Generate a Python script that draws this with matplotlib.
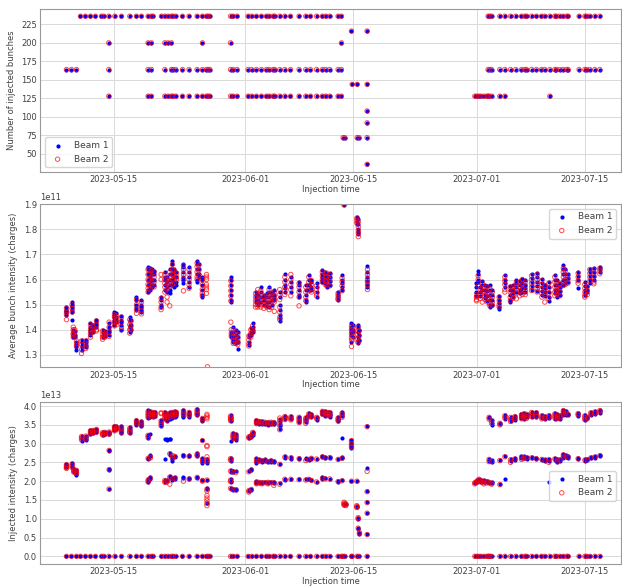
import numpy as np
import pandas as pd
import matplotlib
matplotlib.use("Agg")
import matplotlib.pyplot as plt
import matplotlib.dates as mdates
from matplotlib.ticker import MultipleLocator

# all times are days after 2023-05-15 00:00
T0 = pd.Timestamp("2023-05-15")

# --- number of injected bunches per fill (same for both beams) ---
bunch_day = [-6.13, -5.48, -4.83, -4.31, -3.67, -3.02, -2.37, -1.59, -1.30, -0.65,
             0.13, 1.00, 2.07, 2.94, 3.59, 4.44, 4.88, 5.09, 6.18, 6.61,
             7.03, 7.47, 7.68, 8.03, 8.90, 9.75, 10.79, 11.49, 12.01, 12.21,
             12.44, 15.12, 15.45, 15.97, 17.40, 17.84, 18.48, 19.13, 19.78, 20.12,
             20.63, 20.85, 21.50, 22.15, 22.89, 24.00, 24.87, 25.48, 26.26, 27.03,
             27.46, 27.98, 29.05, 29.49, 29.70, 29.92, 30.79, 30.87, 31.52, 31.77,
             32.81, 46.76, 47.02, 47.28, 47.54, 47.93, 48.32, 48.48, 48.61, 48.70,
             48.93, 50.00, 50.65, 51.39, 52.07, 52.81, 53.24, 53.46, 54.11, 54.75,
             55.40, 55.83, 56.48, 57.12, 57.34, 57.77, 58.20, 58.64, 58.85, 60.27,
             61.01, 61.23, 61.66, 62.31, 62.95]
A = [236, 164, 128]
F = [236, 200, 164, 128]
bunch_sets = [[164], [164], [164], [236], [236], [236], [236], [236], [236], F,
              [236], [236], [236], [236], [236], F, F, [236], [236], F,
              [236, 200, 128], F, A, A, A, A, A, F, A, A,
              A, F, A, A, A, A, A, A, A, A,
              A, A, A, A, A, A, A, A, A, A,
              A, A, A, F, [72], [72], [216], [144], [144, 72], [72],
              [216, 144, 108, 92, 72, 36], [128], [128], [128], [128], [128], [128], A, [128], [236, 164],
              A, A, A, [236, 164], [236, 164], [236, 164], [236, 164], [236, 164], [236, 164], [236, 164],
              [236, 164], [236, 164], A, [236, 164], [236, 164], [236, 164], [236, 164], [236, 164], [236, 164], [236, 164],
              [236, 164], [236, 164], [236, 164], [236, 164], [236, 164]]

# --- average bunch intensity (units of 1e11 charges) ---
avg_day = [-6.13, -5.40, -5.25, -5.05, -4.83, -4.18, -3.63, -3.02, -2.72, -2.24,
           -1.46, -1.17, -0.61, 0.09, 0.35, 1.00, 2.07, 2.20, 2.94, 3.59,
           4.44, 4.66, 4.92, 5.22, 6.13, 6.61, 6.90, 7.25, 7.60, 7.81,
           8.12, 9.03, 9.75, 10.79, 11.00, 11.46, 12.01, 12.14,
           15.16, 15.22, 15.48, 15.80, 16.06, 17.49, 17.75, 17.97, 18.36, 18.65,
           19.04, 19.43, 19.82, 20.12, 20.47, 20.79, 21.50, 22.15, 22.93, 24.00,
           24.87, 25.26, 25.61, 26.26, 27.01, 27.40, 27.59, 27.98, 29.05, 29.57,
           29.79, 30.79, 30.96, 31.61, 31.80, 31.48, 31.67, 32.86,
           46.98, 47.19, 47.47, 47.73, 48.06, 48.38, 48.70, 49.03, 49.91, 50.65,
           51.36, 51.68, 52.14, 52.59, 52.91, 53.30, 54.11, 54.83, 55.44, 55.83,
           56.35, 57.12, 57.38, 57.77, 58.23, 58.48, 58.81, 60.14, 61.01, 61.33,
           61.66, 62.18, 62.95]
avg_b1 = [[1.49, 1.48, 1.475, 1.47, 1.46], [1.51, 1.50, 1.49, 1.48, 1.47, 1.44],
          [1.40, 1.39, 1.38, 1.37], [1.395, 1.38, 1.37], [1.35, 1.34, 1.33, 1.32],
          [1.36, 1.35, 1.34, 1.33, 1.32], [1.36, 1.35, 1.34, 1.33],
          [1.425, 1.41, 1.40, 1.39, 1.38], [1.42, 1.41, 1.40, 1.39], [1.44, 1.43, 1.42, 1.41],
          [1.40, 1.39, 1.38, 1.37], [1.395, 1.385, 1.375], [1.425, 1.41, 1.40, 1.39, 1.38],
          [1.47, 1.46, 1.45, 1.44, 1.43, 1.42], [1.465, 1.45, 1.44, 1.43],
          [1.455, 1.44, 1.43, 1.42, 1.40], [1.45, 1.44, 1.42, 1.41, 1.39], [1.44, 1.42, 1.40],
          [1.53, 1.52, 1.50, 1.49, 1.48], [1.52, 1.50, 1.49, 1.48, 1.47],
          [1.65, 1.64, 1.62, 1.60, 1.58, 1.56, 1.55], [1.645, 1.63, 1.61, 1.59, 1.57, 1.56],
          [1.64, 1.62, 1.60, 1.58, 1.57], [1.635, 1.62, 1.60, 1.58], [1.53, 1.52, 1.50, 1.49],
          [1.63, 1.61, 1.60, 1.58, 1.56], [1.61, 1.59, 1.57, 1.55],
          [1.64, 1.62, 1.60, 1.58, 1.56, 1.545], [1.673, 1.66, 1.64, 1.62, 1.60, 1.58],
          [1.64, 1.63, 1.61, 1.59, 1.57], [1.63, 1.61, 1.59, 1.58],
          [1.66, 1.65, 1.63, 1.61, 1.60, 1.585], [1.65, 1.63, 1.61, 1.59, 1.57],
          [1.673, 1.66, 1.64, 1.62, 1.60, 1.59], [1.66, 1.64, 1.62, 1.61],
          [1.61, 1.60, 1.58, 1.56, 1.54, 1.53], [], [],
          [1.61, 1.60, 1.58, 1.56, 1.54, 1.52, 1.51], [1.39, 1.38, 1.37],
          [1.41, 1.39, 1.37, 1.36, 1.35], [1.40, 1.38, 1.36, 1.345], [1.39, 1.37, 1.35, 1.323],
          [1.38, 1.37, 1.35, 1.34], [1.405, 1.39, 1.38], [1.425, 1.41, 1.40, 1.39],
          [1.55, 1.54, 1.53, 1.52, 1.51], [1.54, 1.52, 1.51, 1.50], [1.57, 1.55, 1.53, 1.51],
          [1.54, 1.53, 1.52, 1.50], [1.545, 1.53, 1.51, 1.495], [1.57, 1.55, 1.53, 1.51, 1.49],
          [1.55, 1.54, 1.52, 1.50], [1.56, 1.54, 1.53, 1.52],
          [1.55, 1.53, 1.50, 1.48, 1.46, 1.445, 1.433], [1.62, 1.60, 1.58, 1.565, 1.55],
          [1.61, 1.59, 1.57, 1.55], [1.59, 1.58, 1.56, 1.54, 1.53],
          [1.58, 1.56, 1.54, 1.52, 1.512], [1.618, 1.60, 1.58, 1.56], [1.60, 1.59, 1.57, 1.56],
          [1.585, 1.57, 1.55, 1.53], [1.638, 1.62, 1.61, 1.60, 1.59], [1.63, 1.615, 1.60, 1.585],
          [1.62, 1.61, 1.60, 1.58, 1.572], [1.625, 1.61, 1.595, 1.58], [1.55, 1.54, 1.53, 1.52],
          [1.618, 1.60, 1.585, 1.57, 1.56], [1.898],
          [1.426, 1.41, 1.40, 1.39, 1.38, 1.35], [1.42, 1.40, 1.39, 1.37],
          [1.42, 1.41, 1.39, 1.37, 1.355, 1.347], [1.40, 1.38, 1.36],
          [1.85, 1.84, 1.83, 1.82], [1.84, 1.82, 1.80, 1.79, 1.78],
          [1.652, 1.63, 1.61, 1.595, 1.58, 1.57],
          [1.585, 1.57, 1.55, 1.535], [1.632, 1.62, 1.60, 1.59], [1.57, 1.55, 1.535],
          [1.596, 1.58, 1.56], [1.58, 1.56, 1.54, 1.525], [1.575, 1.555, 1.535, 1.515],
          [1.58, 1.56, 1.54, 1.52, 1.50, 1.49], [1.56, 1.54, 1.52, 1.50],
          [1.535, 1.52, 1.505, 1.49, 1.483], [1.616, 1.60, 1.585, 1.57],
          [1.575, 1.56, 1.54, 1.52, 1.51], [1.58, 1.56, 1.545, 1.53], [1.60, 1.585, 1.57, 1.55],
          [1.595, 1.58, 1.56, 1.545], [1.603, 1.585, 1.565, 1.55], [1.60, 1.58, 1.565, 1.55],
          [1.623, 1.605, 1.59, 1.575, 1.56], [1.627, 1.61, 1.59, 1.575, 1.555],
          [1.603, 1.585, 1.57, 1.555, 1.54], [1.58, 1.565, 1.55, 1.535],
          [1.59, 1.57, 1.55, 1.53, 1.516], [1.616, 1.60, 1.58, 1.56, 1.545],
          [1.60, 1.58, 1.56, 1.545, 1.53], [1.585, 1.57, 1.555, 1.54],
          [1.656, 1.64, 1.62, 1.60, 1.58], [1.64, 1.62, 1.60, 1.585], [1.62, 1.605, 1.59],
          [1.63, 1.615, 1.60, 1.565], [1.589, 1.575, 1.56, 1.55, 1.54], [1.575, 1.56, 1.55],
          [1.643, 1.63, 1.615, 1.60, 1.585], [1.645, 1.63, 1.615, 1.60], [1.65, 1.64, 1.63]]
avg_b2 = [[1.485, 1.47, 1.46, 1.44], [1.50, 1.485, 1.47],
          [1.41, 1.40, 1.385, 1.38, 1.37], [1.40, 1.39, 1.375], [1.355, 1.345, 1.335],
          [1.355, 1.34, 1.32, 1.305], [1.355, 1.345, 1.335, 1.325],
          [1.42, 1.40, 1.385, 1.37], [1.415, 1.40, 1.39], [1.435, 1.42, 1.40, 1.395],
          [1.395, 1.38, 1.37, 1.362], [1.39, 1.38, 1.37], [1.43, 1.41, 1.39, 1.373],
          [1.46, 1.45, 1.43, 1.415], [1.455, 1.44, 1.43, 1.42],
          [1.45, 1.43, 1.41, 1.40], [1.44, 1.42, 1.40, 1.386], [1.43, 1.41, 1.40],
          [1.52, 1.50, 1.48, 1.465], [1.51, 1.49, 1.475, 1.463],
          [1.64, 1.62, 1.60, 1.58, 1.565, 1.55], [1.64, 1.62, 1.60, 1.58, 1.56],
          [1.635, 1.61, 1.59, 1.575], [1.63, 1.61, 1.59, 1.57],
          [1.62, 1.60, 1.525, 1.51, 1.49, 1.48],
          [1.62, 1.60, 1.585, 1.57, 1.55], [1.60, 1.58, 1.56, 1.53, 1.51],
          [1.63, 1.61, 1.59, 1.57, 1.495], [1.66, 1.64, 1.62, 1.60, 1.58],
          [1.635, 1.62, 1.60, 1.585], [1.625, 1.61, 1.60],
          [1.655, 1.64, 1.62, 1.60, 1.555], [1.64, 1.62, 1.60, 1.58, 1.565],
          [1.665, 1.65, 1.63, 1.61, 1.60], [1.655, 1.635, 1.615],
          [1.60, 1.58, 1.56, 1.545, 1.535], [1.62, 1.61, 1.60, 1.58, 1.57, 1.56, 1.545], [1.252],
          [1.595, 1.575, 1.555, 1.535, 1.515, 1.43], [1.40, 1.385, 1.375],
          [1.40, 1.385, 1.37, 1.355, 1.345], [1.39, 1.37, 1.355, 1.345], [1.38, 1.36, 1.35, 1.34],
          [1.375, 1.36, 1.345, 1.335], [1.40, 1.385, 1.37], [1.415, 1.40, 1.39],
          [1.545, 1.53, 1.515, 1.50, 1.49], [1.56, 1.54, 1.52, 1.50, 1.49],
          [1.555, 1.54, 1.52, 1.50, 1.49], [1.53, 1.515, 1.50, 1.485], [1.535, 1.52, 1.50, 1.49],
          [1.56, 1.54, 1.52, 1.50, 1.48], [1.545, 1.53, 1.51, 1.49], [1.55, 1.535, 1.52, 1.51, 1.473],
          [1.56, 1.54, 1.52, 1.49, 1.47, 1.45, 1.44], [1.61, 1.59, 1.57, 1.555, 1.54],
          [1.62, 1.60, 1.58, 1.56, 1.535], [1.585, 1.57, 1.55, 1.53, 1.495],
          [1.57, 1.55, 1.53, 1.515], [1.61, 1.59, 1.575, 1.555], [1.595, 1.58, 1.56, 1.55],
          [1.575, 1.56, 1.545, 1.535], [1.63, 1.615, 1.60, 1.59], [1.625, 1.61, 1.595, 1.58],
          [1.625, 1.61, 1.59, 1.575], [1.62, 1.60, 1.59, 1.575], [1.545, 1.535, 1.525, 1.52],
          [1.605, 1.59, 1.575, 1.555], [1.898],
          [1.415, 1.40, 1.385, 1.37, 1.36, 1.333], [1.41, 1.39, 1.375, 1.36],
          [1.41, 1.395, 1.38, 1.365, 1.35], [1.395, 1.375, 1.355],
          [1.845, 1.835, 1.825], [1.83, 1.81, 1.795, 1.785, 1.771],
          [1.64, 1.62, 1.60, 1.59, 1.58, 1.56],
          [1.54, 1.53, 1.52, 1.515], [1.615, 1.60, 1.575], [1.56, 1.54, 1.525],
          [1.585, 1.565, 1.55, 1.51], [1.57, 1.55, 1.535, 1.52], [1.57, 1.545, 1.525, 1.51],
          [1.565, 1.545, 1.525, 1.505, 1.495], [1.55, 1.53, 1.51, 1.497],
          [1.53, 1.515, 1.50, 1.49], [1.61, 1.595, 1.58, 1.56, 1.55],
          [1.57, 1.55, 1.53, 1.515], [1.57, 1.555, 1.54, 1.525], [1.59, 1.575, 1.56, 1.545, 1.523],
          [1.59, 1.57, 1.555, 1.535], [1.60, 1.58, 1.56, 1.54], [1.59, 1.575, 1.555, 1.54],
          [1.615, 1.60, 1.585, 1.57, 1.556], [1.62, 1.60, 1.58, 1.565, 1.55],
          [1.595, 1.58, 1.56, 1.545, 1.53], [1.575, 1.56, 1.54, 1.51],
          [1.585, 1.565, 1.545, 1.525], [1.61, 1.59, 1.57, 1.55, 1.535],
          [1.59, 1.57, 1.555, 1.54], [1.58, 1.565, 1.55, 1.535],
          [1.645, 1.63, 1.61, 1.59, 1.576], [1.635, 1.615, 1.60, 1.58], [1.615, 1.60, 1.585],
          [1.625, 1.61, 1.595, 1.585], [1.58, 1.565, 1.55, 1.536, 1.53], [1.57, 1.555, 1.54],
          [1.64, 1.625, 1.61, 1.595], [1.64, 1.625, 1.61, 1.59, 1.583], [1.645, 1.635, 1.623]]

# --- injected intensity (units of 1e13 charges), zero row is one point per fill ---
inj_day = [-6.13, -5.40, -5.18, -4.83, -4.18, -3.63, -3.02, -2.72, -2.24, -1.46,
           -1.17, -0.61, 0.09, 0.35, 1.00, 2.07, 2.94, 3.59, 4.44, 4.73,
           5.05, 5.31, 6.13, 6.61, 6.90, 7.25, 7.60, 7.90, 8.12, 9.03,
           9.75, 10.79, 11.49, 12.07, 15.12, 15.45, 15.80, 17.49, 17.81, 18.00,
           18.48, 18.78, 19.17, 19.56, 19.95, 20.34, 20.73, 21.50, 22.15, 22.93,
           24.00, 24.87, 25.26, 25.61, 26.26, 27.03, 27.40, 27.72, 27.98, 29.05,
           29.57, 29.83, 30.05, 30.79, 31.48, 31.65, 31.82, 32.81,
           46.76, 47.02, 47.28, 47.54, 47.93, 48.32, 48.61, 48.93, 50.00, 50.65,
           51.39, 51.94, 52.81, 53.11, 53.46, 54.11, 54.73, 55.44, 55.83, 56.35,
           57.12, 57.45, 57.77, 58.23, 58.55, 58.85, 60.14, 61.01, 61.33, 61.79,
           62.31, 62.95]
inj_b1 = [[2.46, 2.42, 2.38], [2.49, 2.44, 2.38], [2.32, 2.28, 2.25], [2.30, 2.25, 2.20, 2.17],
          [3.21, 3.16, 3.12, 3.08], [3.21, 3.17, 3.13, 3.10], [3.36, 3.32, 3.28, 3.25],
          [3.37, 3.33, 3.29], [3.39, 3.35, 3.31], [3.30, 3.27, 3.24], [3.31, 3.28, 3.25],
          [3.32, 3.29, 3.26, 2.84, 2.80, 2.32, 2.30, 1.79], [3.47, 3.43, 3.39, 3.35],
          [3.46, 3.42, 3.38], [3.46, 3.41, 3.36, 3.30, 3.28], [3.43, 3.38, 3.33, 3.28],
          [3.63, 3.58, 3.54, 3.50], [3.59, 3.55, 3.50, 3.46],
          [3.89, 3.84, 3.78, 3.72, 3.69, 3.24, 3.20, 3.15, 2.62, 2.60, 2.05, 2.00, 1.97],
          [3.86, 3.80, 3.74, 3.70, 3.25, 2.70, 2.66, 2.10, 2.06],
          [3.85, 3.80, 3.75, 3.71], [3.84, 3.79, 3.74], [3.63, 3.57, 3.52, 3.46],
          [3.85, 3.80, 3.75, 3.70, 3.65, 3.13, 2.58, 2.03, 1.99],
          [3.80, 3.75, 3.70, 3.64, 3.59, 3.12, 3.10, 2.03],
          [3.83, 3.78, 3.72, 3.66, 3.13, 3.11, 2.75, 2.70, 2.13, 2.10],
          [3.85, 3.79, 3.74, 3.68, 2.65, 2.58, 2.54, 2.08, 2.04],
          [3.86, 3.81, 3.76, 3.71, 2.68, 2.65, 2.10, 2.07], [3.84, 3.79, 3.74],
          [3.89, 3.84, 3.78, 3.74, 3.72, 2.70, 2.67, 2.11, 2.09],
          [3.85, 3.80, 3.76, 3.72, 2.70, 2.68, 2.08, 2.05],
          [3.92, 3.87, 3.82, 3.78, 3.75, 2.74, 2.70, 2.67, 2.11, 2.08],
          [3.69, 3.64, 3.59, 3.10, 2.62, 2.55, 2.49, 2.03],
          [2.60, 2.54, 2.49, 2.03, 1.82, 1.79, 1.41],
          [3.75, 3.71, 3.67, 3.63, 3.59, 3.08, 2.62, 2.58, 2.54, 2.29, 2.25, 2.05, 2.01, 1.97, 1.83, 1.79],
          [3.28, 3.24, 3.20, 3.16, 2.27, 2.24, 1.79, 1.77], [3.25, 3.20, 3.15, 3.10, 2.26, 1.79, 1.76],
          [3.20, 3.17, 3.14, 2.27, 1.76, 1.74], [3.24, 3.21, 3.17, 2.32, 2.29, 1.79, 1.77],
          [3.31, 3.28, 3.24],
          [3.63, 3.60, 3.56, 2.62, 2.55, 2.49, 2.00, 1.95], [3.61, 3.57, 3.53, 2.58, 2.53, 1.99, 1.96],
          [3.60, 3.56, 3.52, 2.56, 2.52, 1.97, 1.95], [3.58, 3.55, 3.51, 2.58, 2.53, 1.98],
          [3.57, 3.54, 3.50, 2.54, 2.50, 1.99, 1.96], [3.58, 3.54, 3.51, 2.56, 2.52, 1.98],
          [3.57, 3.54, 3.51, 2.55, 2.50, 1.98, 1.95], [3.66, 3.60, 3.53, 3.46, 3.40, 2.47, 1.94],
          [3.74, 3.70, 3.66, 2.67, 2.62, 2.07, 2.03], [3.73, 3.69, 3.65, 2.64, 2.60, 2.07],
          [3.72, 3.67, 3.62, 3.58, 2.62, 2.59, 2.05], [3.70, 3.66, 3.62, 3.57, 2.62, 2.58, 2.05],
          [3.81, 3.77, 3.73, 2.60, 2.56, 2.06], [3.78, 3.74, 3.70, 2.63, 2.59, 2.04],
          [3.72, 3.68, 3.64, 2.60, 1.98], [3.88, 3.84, 3.80, 2.67, 2.64, 2.10, 2.07],
          [3.86, 3.82, 3.78, 3.74, 2.64, 2.61, 2.08], [3.85, 3.81, 3.77],
          [3.84, 3.80, 3.76, 3.72, 2.65, 2.61, 2.07], [3.70, 3.66, 3.62, 3.59, 2.60, 2.00, 1.98],
          [3.83, 3.78, 3.73, 3.15, 2.64, 2.62, 2.02], [1.40], [1.38],
          [3.10, 3.02, 2.95, 2.89, 2.00], [2.00, 1.33, 1.31], [1.02, 0.99, 0.76, 0.73], [0.62, 0.60],
          [3.46, 2.34, 1.73, 1.44, 1.16, 0.59],
          [1.98, 1.95], [2.02, 1.99], [2.07, 2.03, 2.00], [2.04, 2.00, 1.97], [2.03, 1.99],
          [2.01, 1.98], [3.72, 3.68, 2.60, 2.55, 1.99, 1.96], [3.62, 3.56, 3.50, 2.56, 2.50, 1.98, 1.94],
          [3.56, 3.52, 2.57, 1.92], [3.76, 3.71, 3.66, 2.67, 2.05],
          [3.72, 3.66, 3.60, 2.60, 2.53], [3.74, 3.69, 3.64, 2.62, 2.57],
          [3.79, 3.74, 3.69, 2.67, 2.62], [3.81, 3.76, 3.71, 3.66, 2.66, 2.62],
          [3.80, 3.75, 3.70, 2.65, 2.60], [3.85, 3.80, 3.75, 3.71, 2.64, 2.61],
          [3.84, 3.79, 3.74, 3.70, 2.62, 2.58], [3.76, 3.72, 3.68, 2.60, 2.56],
          [3.73, 3.69, 3.65, 2.58, 2.53], [3.76, 3.71, 3.67, 2.60, 2.55, 1.99],
          [3.81, 3.76, 3.71, 3.66, 2.62, 2.57], [3.78, 3.73, 3.68, 2.60, 2.54, 2.50],
          [3.75, 3.70, 3.66, 2.58, 2.54], [3.90, 3.85, 3.80, 3.76, 2.72, 2.67, 2.62],
          [3.87, 3.82, 3.77, 2.70, 2.65], [3.80, 3.76, 2.66, 2.62],
          [3.82, 3.78, 3.74, 2.62, 2.58], [3.76, 3.71, 3.66, 3.63, 2.58, 2.55],
          [3.72, 3.68, 2.60, 2.56], [3.84, 3.80, 3.76, 2.64, 2.61],
          [3.86, 3.82, 3.78, 2.66, 2.63], [3.90, 3.86, 3.82, 2.70, 2.66]]
inj_b2 = [[2.44, 2.40, 2.36, 2.34], [2.46, 2.41, 2.36], [2.30, 2.27, 2.24], [2.29, 2.24, 2.21],
          [3.19, 3.15, 3.10], [3.20, 3.15, 3.12], [3.34, 3.30, 3.26],
          [3.35, 3.31, 3.28], [3.38, 3.34, 3.30], [3.29, 3.26, 3.23], [3.30, 3.27, 3.24],
          [3.31, 3.28, 3.25, 2.82, 2.31, 1.79], [3.45, 3.41, 3.37, 3.34],
          [3.44, 3.40, 3.37], [3.44, 3.39, 3.33, 3.29], [3.41, 3.36, 3.31, 3.29],
          [3.61, 3.56, 3.52], [3.57, 3.52, 3.48],
          [3.86, 3.80, 3.75, 3.70, 3.22, 3.16, 2.61, 2.03, 1.98],
          [3.84, 3.78, 3.72, 2.64, 2.62, 2.08],
          [3.83, 3.78, 3.73], [3.82, 3.77, 3.72], [3.82, 3.80, 3.60, 3.54, 3.48],
          [3.82, 3.77, 3.72, 3.67, 2.02, 1.97],
          [3.78, 3.73, 3.68, 3.62, 2.00, 1.98],
          [3.81, 3.75, 3.70, 2.73, 2.11, 1.92],
          [3.83, 3.77, 3.72, 2.68, 2.62, 2.07],
          [3.84, 3.79, 3.74, 2.66, 2.08], [3.83, 3.78],
          [3.87, 3.81, 3.76, 2.68, 2.00],
          [3.83, 3.78, 3.74, 2.66, 2.06],
          [3.90, 3.85, 3.80, 3.77, 2.72, 2.68, 2.10],
          [3.67, 3.62, 3.08, 2.58, 2.52, 2.02, 2.00],
          [3.78, 3.74, 3.70, 3.66, 2.95, 2.92, 2.65, 2.57, 2.52, 2.03, 1.79, 1.74, 1.62, 1.55, 1.48, 1.41, 1.35],
          [3.73, 3.69, 3.65, 3.61, 2.60, 2.56, 2.27, 2.03, 1.99, 1.81],
          [3.26, 3.22, 3.18, 3.14, 2.25, 1.78], [3.23, 3.18, 3.13, 2.23, 1.77],
          [3.18, 3.15, 2.25, 1.75, 1.71], [3.22, 3.19, 2.30, 1.78],
          [3.30, 3.26],
          [3.61, 3.57, 3.53, 2.58, 2.52, 1.97, 1.93], [3.59, 3.55, 2.55, 1.97],
          [3.58, 3.54, 2.54, 1.96, 1.93], [3.57, 3.53, 2.55, 1.96],
          [3.56, 3.52, 2.52, 1.97, 1.93], [3.57, 3.53, 2.54, 1.96],
          [3.56, 3.52, 2.52, 1.96, 1.89], [3.68, 3.62, 3.55, 3.48, 3.37, 2.45, 1.92],
          [3.72, 3.68, 3.64, 2.64, 2.05], [3.71, 3.67, 3.63, 2.62, 2.05],
          [3.70, 3.65, 3.60, 3.56, 2.60, 2.04], [3.68, 3.64, 3.60, 3.54, 2.55, 2.03],
          [3.79, 3.75, 3.71, 2.58, 2.05], [3.76, 3.72, 2.61, 2.02],
          [3.70, 3.66, 2.59, 1.98], [3.86, 3.82, 3.78, 2.65, 2.08],
          [3.84, 3.80, 3.76, 2.62, 2.06], [3.83, 3.79, 3.74],
          [3.82, 3.78, 3.74, 2.63, 2.06], [3.68, 3.64, 3.60, 2.58, 1.99],
          [3.81, 3.76, 3.70, 2.61, 2.01], [1.44, 1.41, 1.38, 1.36], [1.40, 1.37, 1.35],
          [3.08, 3.00, 2.93, 2.90, 2.00], [2.00, 1.35, 1.32, 1.30], [1.03, 1.00, 0.75], [0.63, 0.60],
          [3.45, 2.26, 1.72, 1.43, 1.15, 0.58],
          [1.96, 1.93], [2.00, 1.97], [2.05, 2.01], [2.02, 1.98], [2.00, 1.96, 1.93],
          [1.99, 1.95], [3.70, 3.65, 2.58, 2.52, 1.97], [3.60, 3.54, 2.52, 1.95, 1.92],
          [3.54, 3.50, 2.55, 1.91], [3.74, 3.68, 2.65],
          [3.70, 3.64, 3.59, 2.57, 2.50], [3.72, 3.67, 2.59],
          [3.77, 3.72, 3.66, 2.64, 2.58], [3.79, 3.74, 3.68, 2.63, 2.60],
          [3.78, 3.72, 3.67, 2.62], [3.83, 3.78, 3.72, 2.62],
          [3.82, 3.76, 3.72, 2.60], [3.74, 3.70, 3.66, 2.58],
          [3.71, 3.67, 2.55], [3.74, 3.69, 2.57, 2.50],
          [3.79, 3.73, 3.68, 2.59], [3.76, 3.71, 3.66, 2.57, 2.52],
          [3.73, 3.68, 2.56], [3.88, 3.83, 3.78, 2.70, 2.64],
          [3.85, 3.80, 2.67], [3.78, 2.64],
          [3.80, 3.76, 2.60], [3.74, 3.69, 3.64, 2.56],
          [3.70, 3.66, 2.57], [3.82, 3.78, 2.62],
          [3.84, 3.80, 2.64], [3.88, 3.84, 2.68]]


def flatten(days, groups, scale=1.0):
    t, v = [], []
    for d, g in zip(days, groups):
        t += [d] * len(g)
        v += list(g)
    return T0 + pd.to_timedelta(t, unit="D"), np.array(v) * scale


plt.rcParams.update({
    "font.family": "DejaVu Sans",
    "font.size": 6,
    "axes.edgecolor": "0.6",
    "axes.linewidth": 0.8,
    "axes.labelcolor": "0.25",
    "text.color": "0.25",
    "xtick.color": "0.25",
    "ytick.color": "0.25",
    "xtick.major.size": 0,
    "ytick.major.size": 0,
    "grid.color": "0.85",
    "grid.linewidth": 0.7,
})

fig = plt.figure(figsize=(6.22, 5.87), dpi=100)
rects = [[0.065, 0.7075, 0.933, 0.2775],
         [0.065, 0.3743, 0.933, 0.2777],
         [0.065, 0.0397, 0.933, 0.276]]
axes = [fig.add_axes(r) for r in rects]

b1_kw = dict(s=9, color="blue", linewidths=0, label="Beam 1")
b2_kw = dict(s=10, facecolors="none", edgecolors="red", linewidths=0.7, alpha=0.7, label="Beam 2")

# bunches
t, v = flatten(bunch_day, bunch_sets)
axes[0].scatter(t, v, **b1_kw)
axes[0].scatter(t, v, **b2_kw)
axes[0].set_ylabel("Number of injected bunches")
axes[0].yaxis.set_major_locator(MultipleLocator(25))
axes[0].legend(loc="lower left", fontsize=6.5)

# average bunch intensity
t1, v1 = flatten(avg_day, avg_b1, 1e11)
t2, v2 = flatten(avg_day, avg_b2, 1e11)
axes[1].scatter(t1, v1, **b1_kw)
axes[1].scatter(t2, v2, **b2_kw)
axes[1].set_ylim(1.25e11, 1.9e11)
axes[1].set_ylabel("Average bunch intensity (charges)")
axes[1].legend(loc="upper right", fontsize=6.5)

# injected intensity
t1, v1 = flatten(inj_day, inj_b1, 1e13)
t2, v2 = flatten(inj_day, inj_b2, 1e13)
tz, vz = flatten(bunch_day, [[0.0]] * len(bunch_day))
axes[2].scatter(np.concatenate([t1, tz]), np.concatenate([v1, vz]), **b1_kw)
axes[2].scatter(np.concatenate([t2, tz]), np.concatenate([v2, vz]), **b2_kw)
axes[2].set_ylabel("Injected intensity (charges)")
axes[2].legend(loc="center right", bbox_to_anchor=(1.0, 0.48), fontsize=6.5)

ticks = pd.to_datetime(["2023-05-15", "2023-06-01", "2023-06-15", "2023-07-01", "2023-07-15"])
for ax in axes:
    ax.grid(True)
    ax.set_axisbelow(True)
    ax.set_xlim(pd.Timestamp("2023-05-05 12:00"), pd.Timestamp("2023-07-19 16:00"))
    ax.set_xticks(ticks)
    ax.xaxis.set_major_formatter(mdates.DateFormatter("%Y-%m-%d"))
    ax.set_xlabel("Injection time", labelpad=0.5)
    ax.tick_params(pad=2.5)

fig.savefig("out.png", dpi=100)
